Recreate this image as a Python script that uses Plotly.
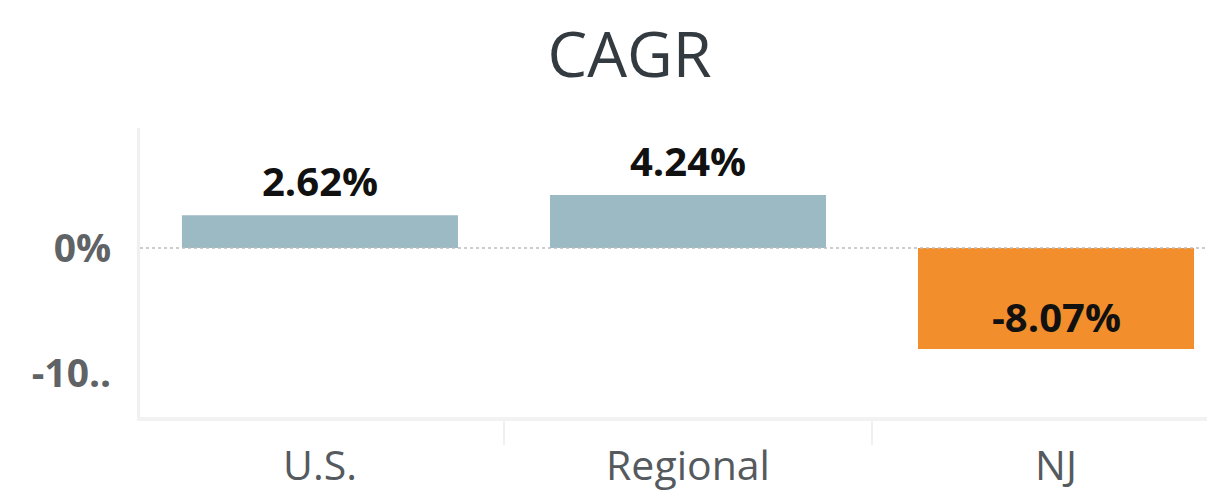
import plotly.graph_objects as go

categories = ["U.S.", "Regional", "NJ"]
cagr_values = [2.62, 4.24, -8.07]
bar_colors = ["#9bbac4", "#9bbac4", "#f28e2b"]
y_tick_values = [0, -10]
y_tick_labels = ["0%", "-10.."]

fig = go.Figure()
fig.add_trace(go.Bar(
    x=categories, y=cagr_values, width=0.75,
    marker=dict(color=bar_colors, line=dict(width=0)),
    hoverinfo="skip",
))

for cat, val in zip(categories, cagr_values):
    fig.add_annotation(
        x=cat, y=val, text=f"{val:.2f}%", showarrow=False,
        yanchor="middle", yshift=(35 if val >= 0 else 32),
        font=dict(family="Open Sans", size=40, color="#111111", weight="bold"),
    )

fig.add_shape(type="line", xref="paper", x0=0, x1=1, yref="y", y0=0, y1=0,
              line=dict(color="#bdbdbd", width=1.5, dash="3px,3px"), layer="above")

fig.update_layout(
    width=1207, height=489,
    margin=dict(l=132, r=0, t=120, b=80),
    paper_bgcolor="white", plot_bgcolor="white",
    showlegend=False,
    title=dict(text="CAGR", x=0.515, xanchor="center", y=0.905, yanchor="middle",
               font=dict(family="Open Sans", size=63, color="#333a40")),
    xaxis=dict(range=[-0.489, 2.432], showgrid=False, zeroline=False,
               showline=True, linecolor="#f2f2f2", linewidth=4,
               ticks="outside", tickson="boundaries", ticklen=24, tickcolor="#f0f0f0", tickwidth=2,
               tickfont=dict(family="Open Sans", size=41, color="#555a5e"),
               ticklabelstandoff=10),
    yaxis=dict(range=[-13.52, 9.6], showgrid=False, zeroline=False,
               showline=True, linecolor="#f0f0f0", linewidth=3,
               tickvals=y_tick_values, ticktext=y_tick_labels,
               tickfont=dict(family="Open Sans", size=39, color="#5f6366", weight="bold"),
               ticklabelstandoff=18),
)

fig.write_html("out.html")
